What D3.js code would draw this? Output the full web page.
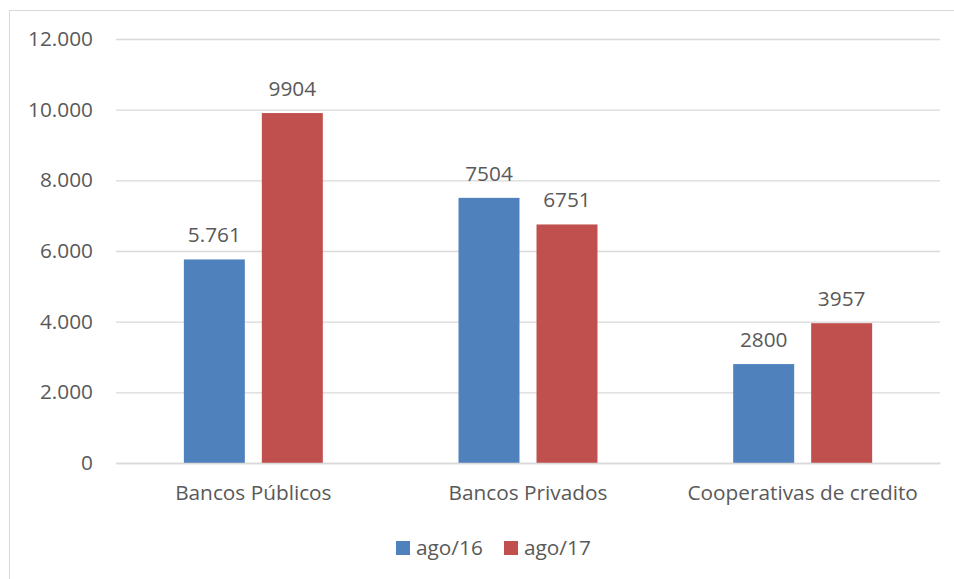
<!DOCTYPE html>
<html>
<head>
<meta charset="utf-8">
<script src="https://cdn.jsdelivr.net/npm/d3@7"></script>
<style>
  body { margin: 0; background: #fff; }
  svg text { font-family: "Open Sans", "Noto Sans", sans-serif; fill: #595959; }
</style>
</head>
<body>
<svg id="chart" width="954" height="579"></svg>
<script>
'use strict';

// chart data
const categories = ['Bancos Públicos', 'Bancos Privados', 'Cooperativas de credito'];
const seriesNames = ['ago/16', 'ago/17'];
const ago16 = [5761, 7504, 2800];
const ago17 = [9904, 6751, 3957];
const ago16Labels = ['5.761', '7504', '2800'];
const ago17Labels = ['9904', '6751', '3957'];
const yTicks = [0, 2000, 4000, 6000, 8000, 10000, 12000];
const colors = ['#4F81BD', '#C0504D'];

const svg = d3.select('#chart');
const width = 954;
const height = 579;
const margin = { top: 39, right: 14, bottom: 116, left: 116 };
const fontSize = 20.8;

// outer chart border
svg.append('rect')
  .attr('x', 9.5)
  .attr('y', 10.5)
  .attr('width', width + 10)
  .attr('height', height + 10)
  .attr('fill', 'none')
  .attr('stroke', '#D9D9D9');

const x = d3.scaleBand()
  .domain(categories)
  .range([margin.left, width - margin.right]);

const xInner = d3.scaleBand()
  .domain(seriesNames)
  .range([0, x.bandwidth()])
  .paddingOuter(0.87)
  .paddingInner(0.218);

const y = d3.scaleLinear()
  .domain([0, 12000])
  .range([height - margin.bottom, margin.top]);

// gridlines + y labels
const yAxis = d3.axisLeft(y)
  .tickValues(yTicks)
  .tickSize(-(width - margin.left - margin.right))
  .tickPadding(23)
  .tickFormat(d => d3.format(',')(d).replace(/,/g, '.'));

svg.append('g')
  .attr('transform', `translate(${margin.left},0)`)
  .call(yAxis)
  .call(g => g.select('.domain').remove())
  .call(g => g.selectAll('line').attr('stroke', '#D9D9D9').attr('stroke-width', 1.3))
  .call(g => g.selectAll('text').attr('font-size', fontSize).attr('fill', '#595959'));

// bars
const rows = categories.map((c, i) => ({
  category: c,
  values: [
    { series: seriesNames[0], value: ago16[i], label: ago16Labels[i] },
    { series: seriesNames[1], value: ago17[i], label: ago17Labels[i] }
  ]
}));

const groups = svg.append('g')
  .selectAll('g')
  .data(rows)
  .join('g')
  .attr('transform', d => `translate(${x(d.category)},0)`);

groups.selectAll('rect')
  .data(d => d.values)
  .join('rect')
  .attr('x', d => xInner(d.series))
  .attr('y', d => y(d.value))
  .attr('width', xInner.bandwidth())
  .attr('height', d => y(0) - y(d.value))
  .attr('fill', (d, i) => colors[i]);

groups.selectAll('text.value')
  .data(d => d.values)
  .join('text')
  .attr('class', 'value')
  .attr('x', d => xInner(d.series) + xInner.bandwidth() / 2)
  .attr('y', d => y(d.value) - 17)
  .attr('text-anchor', 'middle')
  .attr('font-size', fontSize)
  .text(d => d.label);

// x axis
const xAxis = d3.axisBottom(x).tickSize(0).tickPadding(22);
svg.append('g')
  .attr('transform', `translate(0,${y(0)})`)
  .call(xAxis)
  .call(g => g.select('.domain').attr('stroke', '#D9D9D9').attr('stroke-width', 1.3))
  .call(g => g.selectAll('text').attr('font-size', fontSize).attr('fill', '#595959'));

// legend
const legendX = [396, 504];
const legend = svg.append('g')
  .selectAll('g')
  .data(seriesNames)
  .join('g')
  .attr('transform', (d, i) => `translate(${legendX[i]},541)`);

legend.append('rect')
  .attr('width', 14)
  .attr('height', 14)
  .attr('fill', (d, i) => colors[i]);

legend.append('text')
  .attr('x', 20)
  .attr('y', 7)
  .attr('dy', '0.35em')
  .attr('font-size', fontSize)
  .text(d => d);
</script>
</body>
</html>
